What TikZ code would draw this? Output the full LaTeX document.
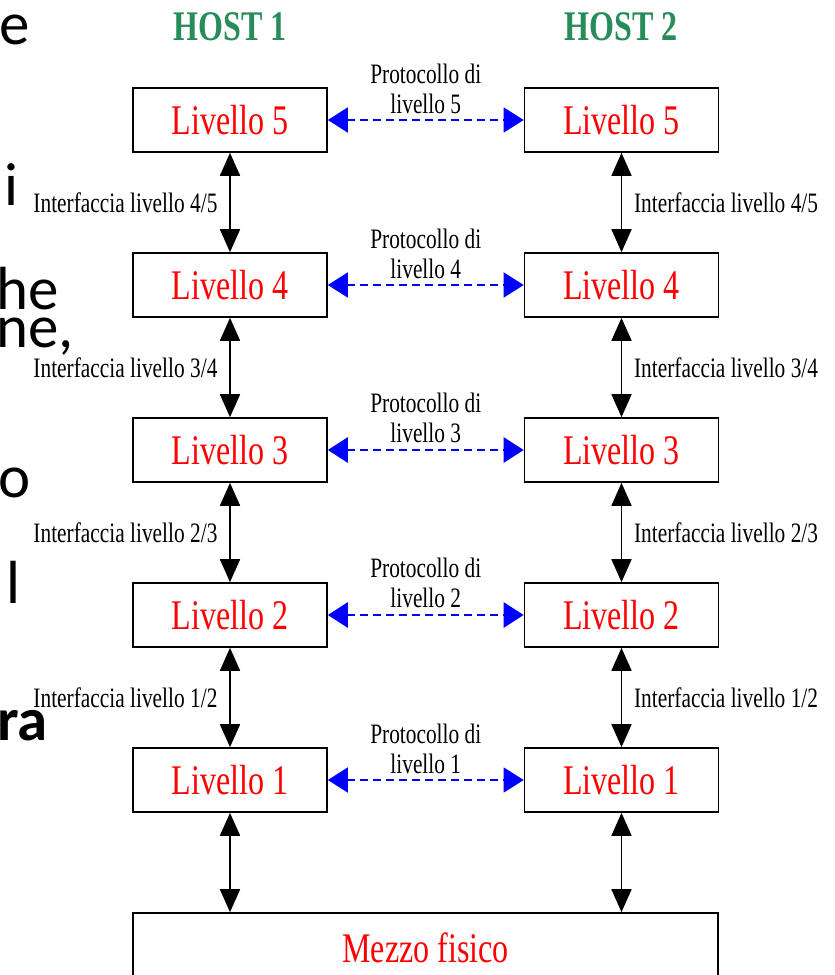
\documentclass[tikz,border=0pt]{standalone}
\usepackage{fontspec}
\setmainfont{Liberation Serif}
\newfontfamily\narrowserif[FakeStretch=0.76]{Liberation Serif}
\newfontfamily\slidesans{Carlito}
\usepackage{tikz}
\usetikzlibrary{
        arrows.meta,
        positioning
    }
\definecolor{hostgreen}{RGB}{40,140,90}
\tikzset{
    layer/.style={draw, line width=1.4pt, minimum width=5.82cm, minimum height=1.92cm,
        inner sep=0pt, text=red, font=\narrowserif\fontsize{36}{36}\selectfont},
    hostlabel/.style={text=hostgreen, font=\narrowserif\bfseries\fontsize{36}{36}\selectfont},
    ifleft/.style={left=10pt, inner sep=0pt, font=\narrowserif\fontsize{24}{26}\selectfont},
    ifright/.style={right=10pt, inner sep=0pt, font=\narrowserif\fontsize{24}{26}\selectfont},
    protolabel/.style={above=5pt, inner sep=0pt, align=center, text=black,
        font=\narrowserif\fontsize{24}{25.6}\selectfont},
    layerlink/.style={<->, >={Triangle[length=6.9mm,width=6mm]}, line width=1.5pt},
    peerlink/.style={<->, >={Triangle[length=6mm,width=7.5mm]}, blue, line width=1.3pt,
        dash pattern=on 2.4mm off 1.5mm},
    slidetext/.style={anchor=base west, inner sep=0pt, font=\slidesans\fontsize{52}{52}\selectfont}
}

\begin{document}
\begin{tikzpicture}[x=0.3mm, y=-0.3mm, node distance=4.95cm]
    \clip (0,0) rectangle (835,975);
    % fragments of the slide text
    \node[slidetext] (fe)  at (-1,44)  {e};
    \node[slidetext] (fi)  at (4,205)  {i};
    \node[slidetext] (fhe) at (-4,309) {he};
    \node[slidetext] (fne) at (-4,347) {ne,};
    \node[slidetext] (fo)  at (-2,497) {o};
    \node[slidetext] (fl)  at (6,603)  {l};
    \node[slidetext, font=\slidesans\bfseries\fontsize{52}{52}\selectfont] (fra) at (-3,740) {ra};

    \node[hostlabel] (h1) at (230,27) {HOST 1};
    \node[hostlabel] (h2) at (621,27) {HOST 2};

    \node[layer] (l5a) at (230,120) {Livello 5};
    \node[layer] (l4a)  [below of=l5a]     {Livello 4};
    \node[layer] (l3a)  [below of=l4a]     {Livello 3};
    \node[layer] (l2a)  [below of=l3a]     {Livello 2};
    \node[layer] (l1a)  [below of=l2a]     {Livello 1};
    \node[layer] (l5b)  [right of=l5a, node distance=11.745cm]     {Livello 5};
    \node[layer] (l4b)  [right of=l4a, node distance=11.745cm]     {Livello 4};
    \node[layer] (l3b)  [right of=l3a, node distance=11.745cm]     {Livello 3};
    \node[layer] (l2b)  [right of=l2a, node distance=11.745cm]     {Livello 2};
    \node[layer] (l1b)  [right of=l1a, node distance=11.745cm]     {Livello 1};
    \node[layer, minimum width=17.55cm, minimum height=2.1cm] (mezzo) at (425.5,948) {Mezzo fisico};

    \path[layerlink]
        (l5a)  edge  node[ifleft]  {Interfaccia livello 4/5} (l4a)
        (l4a)  edge  node[ifleft]  {Interfaccia livello 3/4} (l3a)
        (l3a)  edge  node[ifleft]  {Interfaccia livello 2/3} (l2a)
        (l2a)  edge  node[ifleft]  {Interfaccia livello 1/2} (l1a)
        (l5b)  edge  node[ifright] {Interfaccia livello 4/5} (l4b)
        (l4b)  edge  node[ifright] {Interfaccia livello 3/4} (l3b)
        (l3b)  edge  node[ifright] {Interfaccia livello 2/3} (l2b)
        (l2b)  edge  node[ifright] {Interfaccia livello 1/2} (l1b)
        (l1a)  edge  (l1a |- mezzo.north)
        (l1b)  edge  (l1b |- mezzo.north);
    \path[peerlink]
        (l5a)  edge  node[protolabel] {Protocollo di\\livello 5} (l5b)
        (l4a)  edge  node[protolabel] {Protocollo di\\livello 4} (l4b)
        (l3a)  edge[line width=2.4pt]  node[protolabel] {Protocollo di\\livello 3} (l3b)
        (l2a)  edge[line width=2.4pt]  node[protolabel] {Protocollo di\\livello 2} (l2b)
        (l1a)  edge  node[protolabel] {Protocollo di\\livello 1} (l1b);
\end{tikzpicture}
\end{document}
